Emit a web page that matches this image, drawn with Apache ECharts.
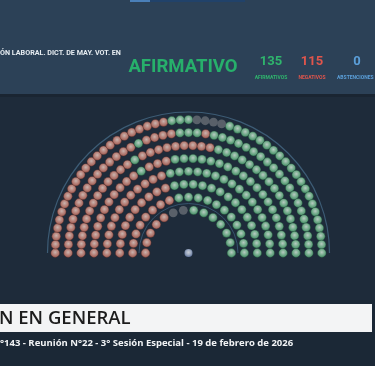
<!DOCTYPE html>
<html>
<head>
<meta charset="utf-8">
<script src="https://cdn.jsdelivr.net/npm/echarts@6/dist/echarts.min.js"></script>
<style>
html,body{margin:0;padding:0;background:#1f2c3b;}
#main{width:375px;height:366px;}
</style>
</head>
<body>
<div id="main"></div>
<script>
var categories = ['AFIRMATIVOS', 'NEGATIVOS', 'ABSTENCIONES'];
var totals = [135, 115, 0];
var resultado = 'AFIRMATIVO';
var tituloExpediente = 'ÓN LABORAL. DICT. DE MAY. VOT. EN';
var tituloVotacion = 'N EN GENERAL';
var subtitulo = '°143 - Reunión N°22 - 3° Sesión Especial - 19 de febrero de 2026';

// bancas por fila (de la interior a la exterior), de izquierda a derecha
// A = afirmativo, N = negativo, X = ausente
var seatRows = [
	'N5 X2 A7',
	'N8 A11',
	'N10 A14',
	'N12 A17',
	'N11 A1 N3 A19',
	'N13 A1 N9 A17',
	'N16 A1 N4 A3 N1 A20',
	'N23 A3 X4 A21'
];

var seats = {A: [], N: [], X: []};
seatRows.forEach(function(row, r) {
	var codes = [];
	row.split(' ').forEach(function(run) {
		var n = parseInt(run.substring(1), 10);
		for (var k = 0; k < n; k++) codes.push(run.charAt(0));
	});
	codes.forEach(function(c, i) {
		seats[c].push([r, i * 180 / (codes.length - 1)]);
	});
});

function bubble(inner, mid, outer) {
	return {
		type: 'radial', x: 0.5, y: 0.42, r: 0.6,
		colorStops: [{offset: 0, color: inner}, {offset: 0.45, color: mid}, {offset: 1, color: outer}]
	};
}

var myChart = echarts.init(document.getElementById('main'));
var cx = 188.5, cy = 253;
var option = {
	backgroundColor: '#1e2b3a',
	animation: false,
	polar: {center: [cx, cy], radius: 140},
	angleAxis: {
		type: 'value', min: 0, max: 360, startAngle: 180, clockwise: true,
		axisLine: {show: false}, axisTick: {show: false}, axisLabel: {show: false}, splitLine: {show: false}
	},
	radiusAxis: {
		type: 'value', min: -3.33, max: 7.52,
		axisLine: {show: false}, axisTick: {show: false}, axisLabel: {show: false}, splitLine: {show: false}
	},
	graphic: [
		{type: 'rect', z: -10, shape: {x: 0, y: 0, width: 375, height: 94}, style: {fill: '#2c4157'}},
		{type: 'rect', z: -10, shape: {x: 0, y: 94, width: 375, height: 3}, style: {fill: '#1a2532'}},
		{type: 'rect', z: -10, shape: {x: 130, y: 0, width: 20, height: 2}, style: {fill: '#4a7fb8'}},
		{type: 'rect', z: -10, shape: {x: 150, y: 0, width: 95, height: 2}, style: {fill: '#21426a'}},
		{type: 'rect', z: -10, shape: {x: 0, y: 300, width: 375, height: 66}, style: {fill: '#1b2836'}},
		{type: 'rect', z: -10, shape: {x: 0, y: 304, width: 372, height: 28}, style: {fill: '#f3f4f5'}},
		{type: 'arc', z: -5, shape: {cx: cx, cy: cy, r: 141, startAngle: Math.PI, endAngle: 2 * Math.PI},
			style: {stroke: '#3d5c75', lineWidth: 1.2, fill: null}},
		{type: 'arc', z: -5, shape: {cx: cx, cy: cy, r: 49.5, startAngle: Math.PI, endAngle: 2 * Math.PI},
			style: {stroke: '#36536d', lineWidth: 1, fill: null}},
		{type: 'text', x: 0, y: 53, style: {text: tituloExpediente, fill: '#e6ecf1', font: 'bold 7.2px Roboto', textVerticalAlign: 'middle'}},
		{type: 'text', x: 183, y: 67, style: {text: resultado, fill: '#27b06b', font: 'bold 18.5px Roboto', textAlign: 'center', textVerticalAlign: 'middle'}},
		{type: 'text', x: 271, y: 62, style: {text: String(totals[0]), fill: '#2fb56d', font: 'bold 13px Roboto', textAlign: 'center', textVerticalAlign: 'middle'}},
		{type: 'text', x: 271, y: 78, style: {text: categories[0], fill: '#2fb56d', font: 'bold 5px Roboto', textAlign: 'center', textVerticalAlign: 'middle'}},
		{type: 'text', x: 312, y: 62, style: {text: String(totals[1]), fill: '#e0554c', font: 'bold 13px Roboto', textAlign: 'center', textVerticalAlign: 'middle'}},
		{type: 'text', x: 312, y: 78, style: {text: categories[1], fill: '#e0554c', font: 'bold 5px Roboto', textAlign: 'center', textVerticalAlign: 'middle'}},
		{type: 'text', x: 357, y: 62, style: {text: String(totals[2]), fill: '#5b9fd9', font: 'bold 13px Roboto', textAlign: 'center', textVerticalAlign: 'middle'}},
		{type: 'text', x: 337, y: 78, style: {text: categories[2], fill: '#5b9fd9', font: 'bold 5px Roboto', textVerticalAlign: 'middle'}},
		{type: 'text', x: -1, y: 319, style: {text: tituloVotacion, fill: '#1c1c1c', font: '600 18.5px "Open Sans"', textVerticalAlign: 'middle'}},
		{type: 'text', x: 0, y: 343, style: {text: subtitulo, fill: '#f2f4f6', font: 'bold 9.5px "Open Sans"', textVerticalAlign: 'middle'}}
	],
	series: [
		{
			name: 'NEGATIVOS', type: 'scatter', coordinateSystem: 'polar', symbolSize: 8.8,
			data: seats.N,
			itemStyle: {color: bubble('#f4d6cc', '#df9d8f', '#bb6050'), borderColor: '#4a2624', borderWidth: 0.5}
		},
		{
			name: 'AFIRMATIVOS', type: 'scatter', coordinateSystem: 'polar', symbolSize: 8.8,
			data: seats.A,
			itemStyle: {color: bubble('#def2e4', '#93d1a8', '#419e66'), borderColor: '#1a4030', borderWidth: 0.5}
		},
		{
			name: 'AUSENTES', type: 'scatter', coordinateSystem: 'polar', symbolSize: 8.8,
			data: seats.X,
			itemStyle: {color: '#686e75'}
		},
		{
			name: 'PRESIDENCIA', type: 'scatter', coordinateSystem: 'polar', symbolSize: 8,
			data: [[-3.33, 0]],
			itemStyle: {color: bubble('#f2f5fb', '#c4d0e6', '#6f86b3')}
		}
	]
};
myChart.setOption(option);
</script>
</body>
</html>
